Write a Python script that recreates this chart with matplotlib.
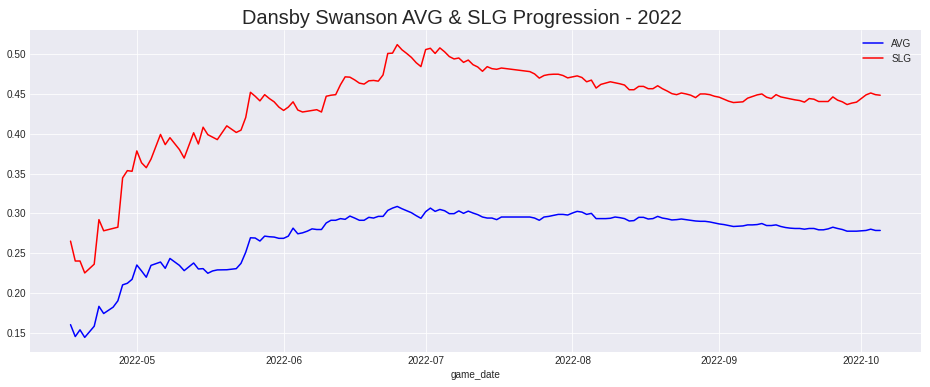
import pandas as pd
import matplotlib
matplotlib.use("Agg")
import matplotlib.pyplot as plt

plt.style.use("seaborn-v0_8-darkgrid")
plt.rcParams['font.family'] = ['Liberation Sans', 'DejaVu Sans']

# game dates (2022) with running AVG / SLG
game_days = [
    "04-17", "04-18", "04-19", "04-20", "04-22", "04-23", "04-24", "04-26", "04-27", "04-28",
    "04-29", "04-30", "05-01", "05-02", "05-03", "05-04", "05-06", "05-07", "05-08", "05-10",
    "05-11", "05-13", "05-14", "05-15", "05-16", "05-17", "05-18", "05-20", "05-22", "05-23",
    "05-24", "05-25", "05-26", "05-27", "05-28", "05-29", "05-30", "05-31", "06-01", "06-02",
    "06-03", "06-04", "06-05", "06-06", "06-07", "06-08", "06-09", "06-10", "06-11", "06-12",
    "06-13", "06-14", "06-15", "06-16", "06-17", "06-18", "06-19", "06-20", "06-21", "06-22",
    "06-23", "06-24", "06-25", "06-26", "06-27", "06-28", "06-29", "06-30", "07-01", "07-02",
    "07-03", "07-04", "07-05", "07-06", "07-07", "07-08", "07-09", "07-10", "07-11", "07-12",
    "07-13", "07-14", "07-15", "07-16", "07-17", "07-23", "07-24", "07-25", "07-26", "07-27",
    "07-28", "07-29", "07-30", "07-31", "08-01", "08-02", "08-03", "08-04", "08-05", "08-06",
    "08-07", "08-08", "08-09", "08-10", "08-11", "08-12", "08-13", "08-14", "08-15", "08-16",
    "08-17", "08-18", "08-19", "08-20", "08-21", "08-22", "08-23", "08-24", "08-25", "08-26",
    "08-27", "08-28", "08-29", "08-30", "08-31", "09-01", "09-02", "09-03", "09-04", "09-05",
    "09-06", "09-07", "09-08", "09-09", "09-10", "09-11", "09-12", "09-13", "09-14", "09-15",
    "09-16", "09-17", "09-18", "09-19", "09-20", "09-21", "09-22", "09-23", "09-24", "09-25",
    "09-26", "09-27", "09-28", "09-29", "09-30", "10-01", "10-02", "10-03", "10-04", "10-05",
]

avg = [
    0.160, 0.145, 0.1535, 0.144, 0.158, 0.183, 0.174, 0.182, 0.190, 0.210,
    0.212, 0.217, 0.235, 0.2275, 0.2196, 0.2345, 0.2387, 0.2308, 0.2432, 0.2345,
    0.2279, 0.2375, 0.2300, 0.2304, 0.2246, 0.2275, 0.2288, 0.2290, 0.2304, 0.2370,
    0.2510, 0.2692, 0.2689, 0.2651, 0.2713, 0.2705, 0.2701, 0.2685, 0.2685, 0.2713,
    0.2813, 0.2742, 0.2754, 0.2775, 0.2804, 0.2796, 0.2796, 0.2878, 0.2912, 0.2912,
    0.2933, 0.2924, 0.2965, 0.2940, 0.2912, 0.2912, 0.2949, 0.2940, 0.2961, 0.2961,
    0.3036, 0.3065, 0.3086, 0.3057, 0.3032, 0.3007, 0.2970, 0.2937, 0.3020, 0.3065,
    0.3024, 0.3048, 0.3032, 0.2995, 0.2995, 0.3030, 0.2999, 0.3027, 0.3003, 0.2983,
    0.2953, 0.2940, 0.2940, 0.2920, 0.2953, 0.2953, 0.2940, 0.2912, 0.2953, 0.2961,
    0.2974, 0.2986, 0.2986, 0.2978, 0.3003, 0.3024, 0.3015, 0.2986, 0.2999, 0.2933,
    0.2933, 0.2933, 0.2937, 0.2953, 0.2945, 0.2933, 0.2903, 0.2908, 0.2949, 0.2949,
    0.2928, 0.2933, 0.2961, 0.2940, 0.2930, 0.2916, 0.2920, 0.2928, 0.2920, 0.2912,
    0.2903, 0.2899, 0.2899, 0.2891, 0.2878, 0.2866, 0.2858, 0.2846, 0.2834, 0.2837,
    0.2841, 0.2854, 0.2854, 0.2858, 0.2871, 0.2846, 0.2846, 0.2854, 0.2834, 0.2821,
    0.2813, 0.2809, 0.2809, 0.2800, 0.2809, 0.2809, 0.2792, 0.2792, 0.2804, 0.2825,
    0.2809, 0.2796, 0.2775, 0.2775, 0.2775, 0.2779, 0.2784, 0.2800, 0.2784, 0.2784,
]

slg = [
    0.265, 0.240, 0.240, 0.225, 0.236, 0.292, 0.278, 0.281, 0.2825, 0.3445,
    0.3536, 0.3528, 0.3784, 0.3635, 0.3573, 0.3681, 0.3991, 0.3863, 0.3950, 0.3801,
    0.3694, 0.4012, 0.3871, 0.4082, 0.3988, 0.3957, 0.3926, 0.4099, 0.4016, 0.4045,
    0.4204, 0.4521, 0.4471, 0.4413, 0.4491, 0.4442, 0.4401, 0.4335, 0.4293, 0.4335,
    0.4401, 0.4298, 0.4273, 0.4283, 0.4293, 0.4302, 0.4273, 0.4471, 0.4484, 0.4491,
    0.4615, 0.4715, 0.4711, 0.4677, 0.4636, 0.4624, 0.4665, 0.4670, 0.4661, 0.4739,
    0.5009, 0.5013, 0.5120, 0.5055, 0.5009, 0.4959, 0.4893, 0.4844, 0.5058, 0.5074,
    0.5009, 0.5079, 0.5030, 0.4970, 0.4940, 0.4952, 0.4897, 0.4926, 0.4868, 0.4839,
    0.4785, 0.4843, 0.4818, 0.4810, 0.4826, 0.4781, 0.4752, 0.4699, 0.4732, 0.4744,
    0.4748, 0.4748, 0.4732, 0.4702, 0.4715, 0.4727, 0.4707, 0.4653, 0.4674, 0.4574,
    0.4620, 0.4636, 0.4653, 0.4640, 0.4628, 0.4612, 0.4553, 0.4553, 0.4595, 0.4595,
    0.4566, 0.4566, 0.4603, 0.4566, 0.4537, 0.4504, 0.4491, 0.4512, 0.4500, 0.4484,
    0.4454, 0.4500, 0.4500, 0.4491, 0.4471, 0.4459, 0.4434, 0.4409, 0.4392, 0.4397,
    0.4401, 0.4447, 0.4467, 0.4488, 0.4500, 0.4459, 0.4442, 0.4491, 0.4463, 0.4450,
    0.4438, 0.4426, 0.4417, 0.4397, 0.4442, 0.4434, 0.4405, 0.4405, 0.4405, 0.4463,
    0.4422, 0.4401, 0.4367, 0.4385, 0.4397, 0.4442, 0.4488, 0.4512, 0.4491, 0.4484,
]

game_date = pd.to_datetime(["2022-" + d for d in game_days])

fig = plt.figure(figsize=(930 / 72, 387 / 72), dpi=72)
ax = fig.add_subplot(111)
fig.subplots_adjust(left=0.0323, right=0.990, bottom=0.0904, top=0.9225)

ax.plot(game_date, avg, color='b', lw=1.5, label='AVG')
ax.plot(game_date, slg, color='r', lw=1.5, label='SLG')

ax.set_title("Dansby Swanson AVG & SLG Progression - 2022", fontsize=20, x=0.485)
ax.set_xlabel("game_date", fontsize=10)
ax.tick_params(labelsize=10)
ax.legend(loc='upper right', fontsize=10)

fig.savefig("out.png", dpi=72)
